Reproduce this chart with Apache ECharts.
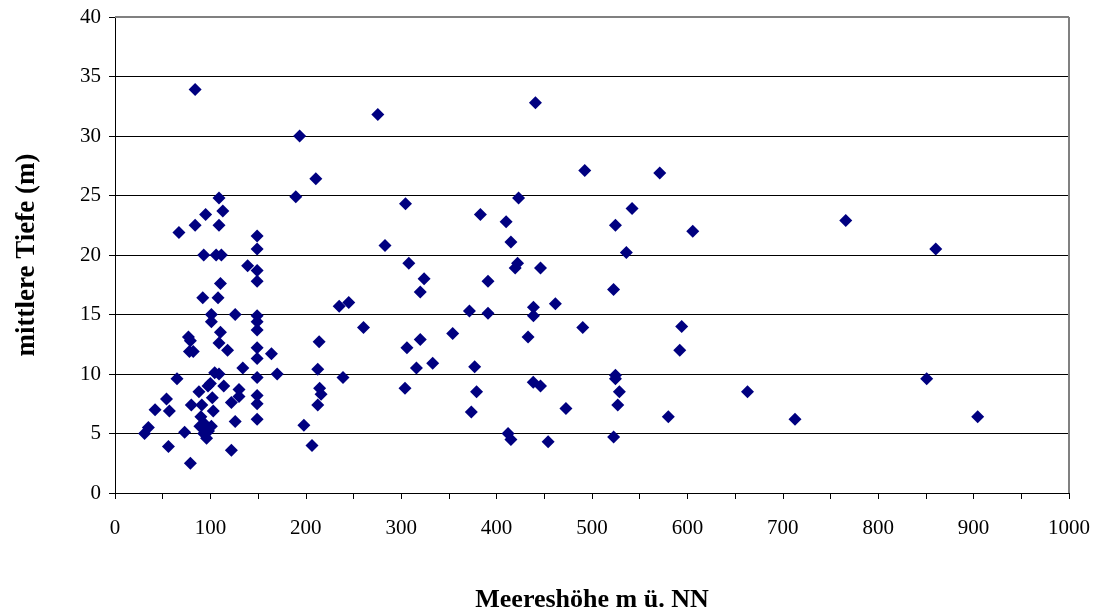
<!DOCTYPE html>
<html>
<head>
<meta charset="utf-8">
<script src="https://cdn.jsdelivr.net/npm/echarts@6/dist/echarts.min.js"></script>
<style>
  html, body { margin: 0; padding: 0; background: #fff; }
  #chart { width: 1098px; height: 610px; }
</style>
</head>
<body>
<div id="chart"></div>
<script>
// Meereshöhe (m ü. NN) und mittlere Tiefe (m), paarweise
const hoehe = [
  31, 35, 42, 54, 57, 56, 65, 67, 73, 77, 79, 78, 82, 79, 80, 84, 84,
  88, 89, 90, 91, 92, 93, 94, 93, 98, 96, 101, 95, 97.5, 100, 101, 101,
  102, 103, 104.5, 106, 109, 109, 108, 109, 109, 110.5, 110.5, 111.5, 113,
  114, 118, 122, 122, 126, 126, 130, 130, 134, 139,
  149, 149, 149, 149, 149, 149, 149, 149, 149, 149, 149, 149, 149,
  164, 170,
  189.5, 193.5, 198, 206.5, 210.5, 214, 212.5, 214.5, 216, 212.5,
  235, 239, 245, 260.5, 275.5, 283, 304.5, 304, 306, 308, 316, 320, 320,
  324, 333, 354, 371.5, 373.5, 377, 379, 383, 391, 391, 410, 412, 415,
  415, 419.5, 422, 423, 433, 438.6, 438.6, 438.4, 440.7, 446, 446, 454,
  461.6, 472.7, 490.3, 492.4, 522.6, 522.7, 524.6, 524.6, 524.6, 528.7,
  527, 536, 542, 571, 580, 594, 592, 605.6, 663, 712.8, 766, 850.8, 860.3,
  904.3
];
const tiefe = [
  5.0, 5.5, 7.0, 7.9, 6.9, 3.9, 9.6, 21.9, 5.1, 13.1, 12.8, 11.9, 11.9, 2.5, 7.4, 33.9, 22.5,
  8.5, 5.6, 6.4, 7.4, 16.4, 20.0, 5.8, 5.0, 5.2, 4.6, 5.6, 23.4, 9.0, 9.2, 15.0, 14.4,
  8.0, 6.9, 10.1, 20.0, 10.0, 12.6, 16.4, 22.5, 24.8, 13.5, 17.6, 20.0, 23.7,
  9.0, 12.0, 7.6, 3.6, 15.0, 6.0, 8.7, 8.1, 10.5, 19.1,
  21.6, 20.5, 18.7, 17.8, 14.9, 14.4, 13.7, 12.2, 11.3, 9.7, 8.2, 7.5, 6.2,
  11.7, 10.0,
  24.9, 30.0, 5.7, 4.0, 26.4, 12.7, 10.4, 8.8, 8.3, 7.4,
  15.7, 9.7, 16.0, 13.9, 31.8, 20.8, 24.3, 8.8, 12.2, 19.3, 10.5, 16.9, 12.9,
  18.0, 10.9, 13.4, 15.3, 6.8, 10.6, 8.5, 23.4, 17.8, 15.1, 22.8, 5.0, 21.1,
  4.5, 18.9, 19.3, 24.8, 13.1, 15.6, 14.9, 9.3, 32.8, 18.9, 9.0, 4.3,
  15.9, 7.1, 13.9, 27.1, 17.1, 4.7, 22.5, 9.9, 9.6, 8.5,
  7.4, 20.2, 23.9, 26.9, 6.4, 14.0, 12.0, 22.0, 8.5, 6.2, 22.9, 9.6, 20.5,
  6.4
];

const punkte = hoehe.map((h, i) => [h, tiefe[i]]);

const chart = echarts.init(document.getElementById('chart'));

const serif = '"Liberation Serif", "Times New Roman", serif';

chart.setOption({
  backgroundColor: '#fff',
  animation: false,
  grid: { left: 115, right: 29, top: 17, bottom: 117, outerBoundsMode: 'none' },
  xAxis: {
    type: 'value',
    min: 0,
    max: 1000,
    interval: 100,
    name: 'Meereshöhe m ü. NN',
    nameLocation: 'middle',
    nameGap: 94,
    nameTextStyle: { fontFamily: serif, fontSize: 26, fontWeight: 'bold', color: '#000' },
    axisLine: { lineStyle: { color: '#000', width: 1 } },
    axisTick: { show: true, length: 6, lineStyle: { color: '#000' } },
    minorTick: { show: true, splitNumber: 2, length: 6, lineStyle: { color: '#000' } },
    axisLabel: { fontFamily: serif, fontSize: 21, color: '#000', margin: 25, formatter: v => String(v) },
    splitLine: { show: false }
  },
  yAxis: {
    type: 'value',
    min: 0,
    max: 40,
    interval: 5,
    name: 'mittlere Tiefe (m)',
    nameLocation: 'middle',
    nameGap: 74,
    nameTextStyle: { fontFamily: serif, fontSize: 27, fontWeight: 'bold', color: '#000' },
    axisLine: { show: true, lineStyle: { color: '#000', width: 1 } },
    axisTick: { show: true, length: 6, lineStyle: { color: '#000' } },
    axisLabel: { fontFamily: serif, fontSize: 21, color: '#000', margin: 14 },
    splitLine: { show: true, lineStyle: { color: '#000', width: 1 } }
  },
  series: [{
    type: 'scatter',
    data: punkte,
    symbol: 'diamond',
    symbolSize: 13,
    itemStyle: { color: '#000080', opacity: 1 },
    markLine: {
      silent: true,
      symbol: 'none',
      label: { show: false },
      lineStyle: { color: '#808080', width: 2, type: 'solid' },
      data: [{ yAxis: 40 }, { xAxis: 1000 }]
    }
  }]
});
</script>
</body>
</html>
